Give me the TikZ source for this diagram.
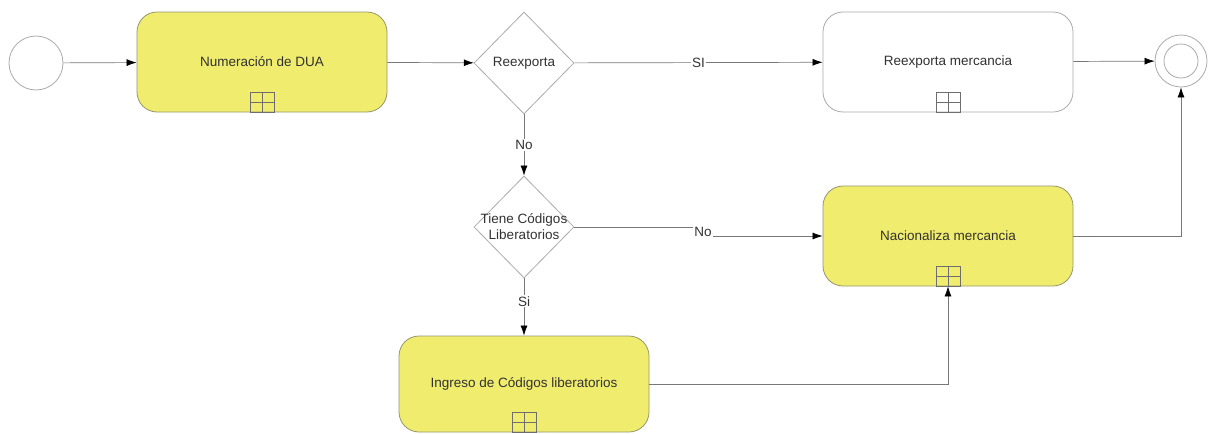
\documentclass[tikz,border=0pt]{standalone}
\usepackage{fontspec}
\setmainfont{Liberation Sans}
\usetikzlibrary{shapes.geometric,arrows.meta}
\definecolor{taskyellow}{RGB}{240,236,110}
\definecolor{taskborder}{RGB}{150,150,110}
\definecolor{shapegray}{RGB}{170,170,170}
\definecolor{linegray}{RGB}{120,120,120}
\definecolor{markgray}{RGB}{110,110,110}
\definecolor{txt}{RGB}{50,50,50}
\begin{document}
\begin{tikzpicture}[x=1pt,y=-1pt,
  font=\fontsize{13.5}{16}\selectfont,
  task/.style={draw=taskborder, fill=taskyellow, rounded corners=20pt, minimum width=250pt, minimum height=100pt, line width=0.8pt, text=txt, inner sep=0pt},
  wtask/.style={task, fill=white, draw=shapegray},
  gate/.style={diamond, draw=shapegray, minimum width=100pt, minimum height=102pt, inner sep=0pt, line width=0.8pt},
  event/.style={circle, draw=shapegray, inner sep=0pt, line width=0.8pt},
  marker/.style={draw=markgray, line width=0.6pt, minimum width=24pt, minimum height=20pt, inner sep=0pt,
    path picture={\draw[markgray, line width=0.6pt] (path picture bounding box.north) -- (path picture bounding box.south)
      (path picture bounding box.west) -- (path picture bounding box.east);}},
  plain/.style={draw=linegray, line width=0.7pt},
  flow/.style={plain, -{Latex[length=10pt,width=7pt,black]}},
  lbl/.style={fill=white, inner sep=1pt, text=txt},
  gtext/.style={text=txt, align=center, inner sep=0pt}
]
\useasboundingbox (0,0) rectangle (1211,434);

% events
\node[event, minimum size=54pt] (s) at (36,63) {};
\node[event, minimum size=52pt] (e) at (1181,61) {};
\node[event, minimum size=34pt] (ei) at (1181,61) {};

% tasks
\node[task] (t1) at (262,62) {Numeración de DUA};
\node[marker, anchor=south] (m1) at (t1.south) {};
\node[wtask] (t2) at (948,62) {Reexporta mercancia};
\node[marker, anchor=south] (m2) at (t2.south) {};
\node[task] (t4) at (948,236) {Nacionaliza mercancia};
\node[marker, anchor=south] (m4) at (t4.south) {};
\node[task, minimum height=96pt] (t3) at (524,384) {Ingreso de Códigos liberatorios};
\node[marker, anchor=south] (m3) at (t3.south) {};

% gateways
\node[gate] (d1) at (524,63) {};
\node[gtext] (d1t) at (d1.center) {Reexporta};
\node[gate] (d2) at (524,227) {};
\node[gtext] (d2t) at (d2.center) {Tiene Códigos\\Liberatorios};

% flows
\draw[flow] (s) -- (t1);
\draw[flow] (t1) -- (d1);
\draw[flow] (d1) -- node[lbl] {SI} (t2);
\draw[flow] (t2) -- (e);
\draw[flow] (d1) -- node[lbl] {No} (d2);
\draw[flow] (d2) -- node[lbl, pos=0.4] {Si} (t3);
\node[lbl] (no2) at (703,232) {No};
\draw[plain] (d2.east) -- (no2.west |- d2.east);
\draw[flow] (no2.east |- t4.west) -- (t4.west);
\draw[flow] (t4.east) -| (e.south);
\draw[flow] (t3.east) -| (m4.south);
\end{tikzpicture}
\end{document}
